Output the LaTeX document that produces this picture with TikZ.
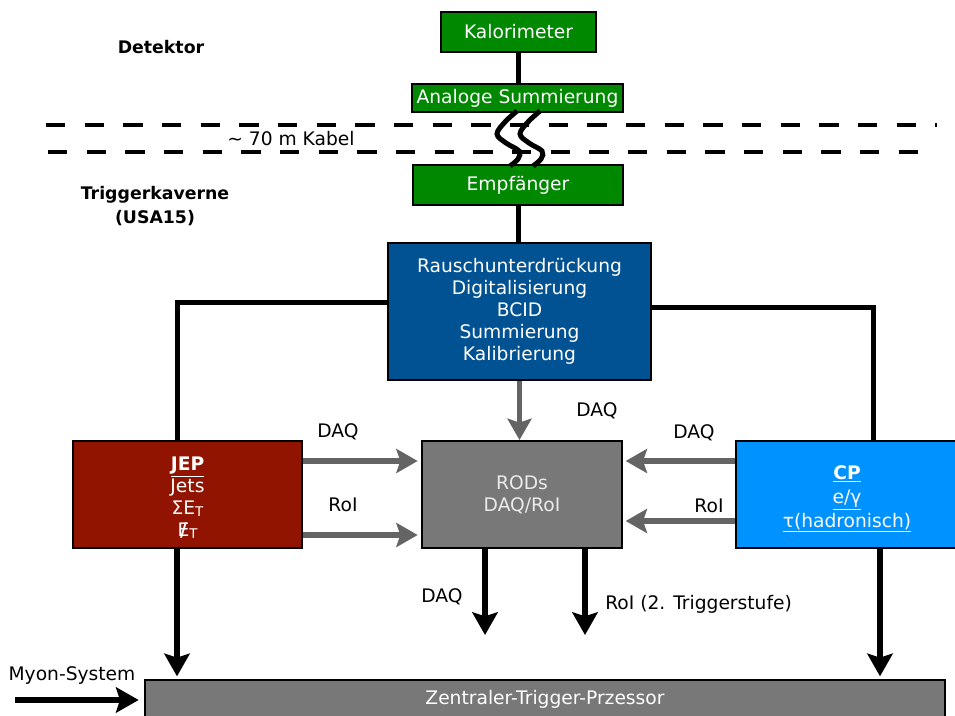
\documentclass[tikz,border=0pt]{standalone}
\usepackage{fontspec}
\setmainfont{DejaVu Sans}
\usetikzlibrary{arrows.meta,calc}

\definecolor{kalgreen}{RGB}{0,136,0}
\definecolor{procblue}{RGB}{0,82,147}
\definecolor{jepred}{RGB}{145,20,0}
\definecolor{cpblue}{RGB}{0,146,255}
\definecolor{rodgray}{RGB}{120,120,120}
\definecolor{arrowgray}{RGB}{100,100,100}

\begin{document}
\begin{tikzpicture}[x=0.75pt,y=-0.75pt,
  sz/.style 2 args={minimum width=#1*0.75pt, minimum height=#2*0.75pt},
  box/.style={draw=black, line width=1.5pt, text=white, align=center,
    inner sep=0pt, font=\fontsize{14}{16.5}\selectfont},
  lbl/.style={inner sep=0pt, font=\fontsize{14}{16}\selectfont},
  hdr/.style={inner sep=0pt, align=center, font=\fontsize{13}{18}\selectfont\bfseries},
  wire/.style={line width=3.75pt},
  cable/.style={line width=3.75pt},
  sepline/.style={line width=2.75pt, dash pattern=on 14.5pt off 14.5pt},
  darrow/.style={line width=4.5pt, -{Stealth[length=17pt,width=19pt,inset=3pt]}},
  garrow/.style={draw=arrowgray, line width=4pt, -{Stealth[length=16pt,width=18pt,inset=3pt]}}]
\useasboundingbox (0,0) rectangle (955,716);

% separation between detector and trigger cavern
\draw[sepline] (46,125) -- (937,125);
\draw[sepline] (48,152) -- (919,152);

% blocks
\node[box, fill=kalgreen, sz={155}{40}] (kal) at (518.5,32) {Kalorimeter};
\node[box, fill=kalgreen, sz={211}{28}] (ana) at (517.5,98) {Analoge Summierung};
\node[box, fill=kalgreen, sz={210}{40}] (emp) at (518,185) {Empfänger};
\node[box, fill=procblue, sz={263}{137}] (proc) at (519.5,311.5)
  {Rauschunterdrückung\\Digitalisierung\\BCID\\Summierung\\Kalibrierung};
\node[box, fill=jepred, sz={229}{107}] (jep) at (187.5,494.5)
  {\rule{0pt}{15pt}\underline{\textbf{JEP}}\\Jets\\
   ΣE\raisebox{-0.25ex}{\fontsize{10}{10}\selectfont T}\\
   \ooalign{E\cr\hidewidth\textbf{/}\hidewidth\cr}\raisebox{-0.25ex}{\fontsize{10}{10}\selectfont T}};
\node[box, fill=rodgray, text=white!92!black, sz={200}{107}] (rods) at (522,494.5)
  {RODs\\DAQ/RoI};
\node[box, fill=cpblue, sz={222}{107}] (cp) at (847,494.5)
  {\rule{0pt}{17pt}\underline{\textbf{CP}}\\[1.5pt]\underline{e/γ}\\[1.5pt]\underline{τ(hadronisch)}};
\node[box, fill=rodgray, sz={800}{38}] (ctp) at (545,699) {Zentraler-Trigger-Przessor};

% labels
\node[hdr] (det) at (161,47) {Detektor};
\node[hdr] (cav) at (155,206) {Triggerkaverne\\(USA15)};
\node[lbl] (kabel) at (291,139) {\textasciitilde\ 70 m Kabel};
\node[lbl] (l1) at (338,432) {DAQ};
\node[lbl] (l2) at (343,505) {RoI};
\node[lbl] (l3) at (694,433) {DAQ};
\node[lbl] (l4) at (709,506) {RoI};
\node[lbl] (l5) at (597,411) {DAQ};
\node[lbl] (l6) at (442,597) {DAQ};
\node[lbl, anchor=west] (l7) at (605,604) {RoI (2. Triggerstufe)};
\node[lbl] (myonlbl) at (72,676) {Myon-System};

% helper coordinates
\coordinate (jepcorner) at (177,302);
\coordinate (cpcorner) at (873,307);
\coordinate (cpdown) at (880,0);
\coordinate (ydaq) at (0,461);
\coordinate (yjroi) at (0,535);
\coordinate (ycroi) at (0,521);
\coordinate (rdaq) at (485,635);
\coordinate (rroi) at (585,635);
\coordinate (myon) at (15,700);

% signal path from the calorimeter
\draw[wire] (kal.south) -- (kal.south |- ana.north);
\draw[wire] (emp.south) -- (emp.south |- proc.north);
\foreach \dx in {0,23}{
  \draw[cable, xshift=\dx*0.75pt] plot[smooth, tension=0.6] coordinates
    {(517,111) (505,122) (497,134) (506,143) (519,151) (518,159) (510,166)};
}

% processor to JEP and CP
\draw[wire] (proc.west |- jepcorner) -- (jepcorner) -- (jepcorner |- jep.north);
\draw[wire] (proc.east |- cpcorner) -- (cpcorner) -- (cpcorner |- cp.north);

% readout paths (grey)
\draw[garrow] (proc.south) -- (proc.south |- rods.north);
\draw[garrow, shorten >=2.5pt] (jep.east |- ydaq) -- (rods.west |- ydaq);
\draw[garrow, shorten >=2.5pt] (jep.east |- yjroi) -- (rods.west |- yjroi);
\draw[garrow, shorten >=2pt] (cp.west |- ydaq) -- (rods.east |- ydaq);
\draw[garrow, shorten >=2pt] (cp.west |- ycroi) -- (rods.east |- ycroi);

% outputs
\draw[darrow] (rods.south -| rdaq) -- (rdaq);
\draw[darrow] (rods.south -| rroi) -- (rroi);
\draw[darrow, shorten >=2pt] (jep.south -| jepcorner) -- (jepcorner |- ctp.north);
\draw[darrow, shorten >=2pt] (cp.south -| cpdown) -- (cpdown |- ctp.north);
\draw[darrow, shorten >=4pt] (myon) -- (myon -| ctp.west);
\end{tikzpicture}
\end{document}
